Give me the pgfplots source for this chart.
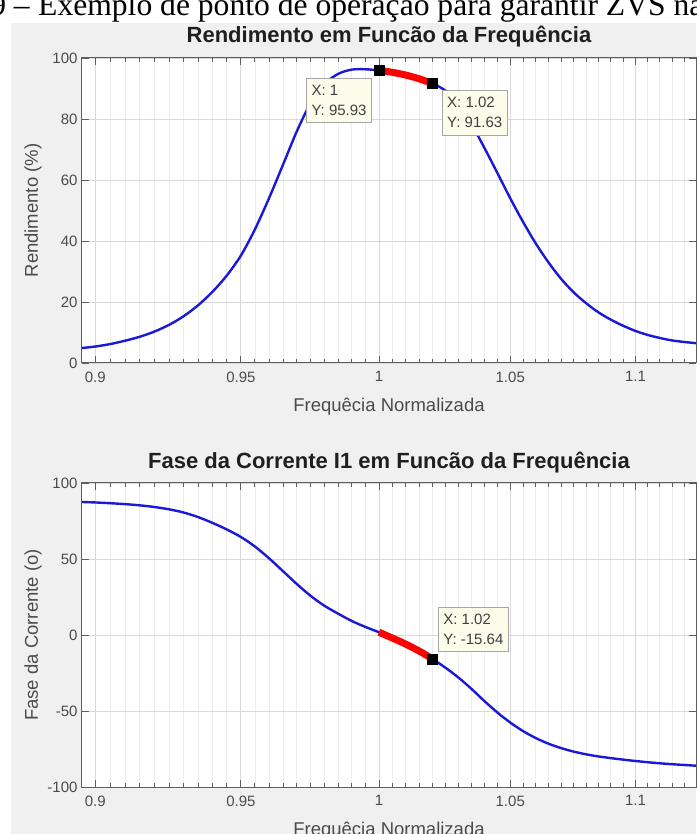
\documentclass[border=0pt]{standalone}
\usepackage{pgfplots}
\usepackage{pgfplotstable}
\pgfplotsset{compat=1.18}
\usepackage{fontspec}
\setmainfont{Liberation Sans}
\newfontfamily\seriffont{Liberation Serif}
\definecolor{figbg}{RGB}{240,240,240}
\definecolor{tipbg}{RGB}{252,252,234}
\definecolor{curveblue}{RGB}{25,25,215}
\definecolor{axgray}{RGB}{95,95,95}
\definecolor{lblgray}{RGB}{75,75,75}

\pgfplotstableread{
x y
0.8956 4.9
0.900 5.4
0.905 6.2
0.910 7.3
0.915 8.6
0.920 10.3
0.925 12.5
0.930 15.3
0.935 18.9
0.940 23.3
0.945 28.6
0.950 35.2
0.955 43.8
0.960 54
0.965 65
0.970 76
0.975 85.3
0.980 91.5
0.985 94.8
0.990 96.2
0.995 96.3
1.000 95.93
1.005 95.3
1.010 94.4
1.015 93.2
1.020 91.63
1.025 89.3
1.030 84.8
1.035 78.3
1.040 70.5
1.045 62.3
1.050 54
1.055 46.3
1.060 39.2
1.065 33
1.070 27.6
1.075 23.2
1.080 19.6
1.085 16.6
1.090 14.2
1.095 12.2
1.100 10.5
1.105 9.2
1.110 8.2
1.115 7.4
1.120 6.9
1.125 6.5
}\effdata

\pgfplotstableread{
x y
0.8956 87.5
0.900 87.2
0.905 86.7
0.910 86.1
0.915 85.3
0.920 84.2
0.925 82.7
0.930 80.6
0.935 77.6
0.940 73.8
0.945 69.5
0.950 64.5
0.955 58.2
0.960 50.5
0.965 42
0.970 33.5
0.975 25.7
0.980 19.2
0.985 14
0.990 9.2
0.995 5.3
1.000 1.8
1.005 -2
1.010 -6
1.015 -10.5
1.020 -15.64
1.025 -21.5
1.030 -28
1.035 -35.5
1.040 -43.5
1.045 -51
1.050 -57.6
1.055 -63.2
1.060 -67.8
1.065 -71.5
1.070 -74.4
1.075 -76.7
1.080 -78.5
1.085 -79.9
1.090 -81
1.095 -82
1.100 -82.9
1.105 -83.7
1.110 -84.4
1.115 -85
1.120 -85.5
1.125 -86
}\phasedata

\tikzset{
  tipbox/.style={draw=black!35, fill=tipbg, line width=0.6pt, inner xsep=5pt, inner ysep=7pt,
    text=black!75, font=\fontsize{15}{20}\selectfont, align=left},
}

\begin{document}
\begin{tikzpicture}
\useasboundingbox (0,0) rectangle (696pt,834pt);
\fill[figbg] (11pt,0pt) rectangle (696pt,811pt);
\node[anchor=base west, inner sep=0pt, font=\seriffont\fontsize{31.6}{32}\selectfont] at (38pt,818pt) {Exemplo de ponto de operação para garantir ZVS na};
\node[anchor=base east, inner sep=0pt, font=\seriffont\fontsize{31.6}{32}\selectfont] at (30pt,818pt) {9 –};

\begin{axis}[
    xmode=log, scale only axis, width=614pt, height=305pt,
    at={(82pt,471pt)}, anchor=south west,
    xmin=0.8956, xmax=1.125,
    xtick={0.9,0.95,1,1.05,1.1},
    xticklabels={0.9,0.95,1,1.05,1.1},
    minor xtick={0.905,0.91,0.915,0.92,0.925,0.93,0.935,0.94,0.945,0.955,0.96,0.965,0.97,0.975,0.98,0.985,0.99,0.995,1.005,1.01,1.015,1.02,1.025,1.03,1.035,1.04,1.045,1.055,1.06,1.065,1.07,1.075,1.08,1.085,1.09,1.095,1.105,1.11,1.115,1.12},
    xmajorgrids, xminorgrids, ymajorgrids,
    major grid style={draw=black!15, line width=0.8pt},
    minor grid style={draw=black!7, line width=0.8pt},
    axis line style={draw=axgray, line width=1pt},
    tick style={draw=axgray, line width=0.9pt},
    major tick length=7pt, minor tick length=4pt,
    tick align=inside,
    tick label style={font=\fontsize{15}{15}\selectfont, text=lblgray},
    xticklabel style={yshift=-5pt},
    yticklabel style={xshift=-1pt},
    xlabel style={at={(axis description cs:0.5,-0.1443)}, anchor=center, font=\fontsize{18.5}{18.5}\selectfont, text=lblgray},
    ylabel style={at={(axis description cs:-0.0798,0.5)}, anchor=center, font=\fontsize{18.5}{18.5}\selectfont, text=lblgray},
    title style={at={(axis description cs:0.5,1)}, anchor=center, yshift=15pt, font=\bfseries\fontsize{22}{22}\selectfont, text=black!88},
    axis background/.style={fill=white},
    xlabel={Frequêcia Normalizada},
    ymin=0, ymax=100, ytick={0,20,40,60,80,100},
    yticklabels={0,20,40,60,80,100},
    ylabel={Rendimento (\%)},
    title={Rendimento em Funcão da Frequência}]
\addplot[curveblue, line width=2.4pt, smooth] table[x=x,y=y] {\effdata};
\addplot[red, line width=7pt, smooth] coordinates {(1.000,95.93) (1.005,95.3) (1.010,94.4) (1.015,93.2) (1.020,91.63)};
\addplot[only marks, mark=square*, mark size=5pt, black] coordinates {(1,95.93) (1.02,91.63)};
\node[tipbox, anchor=north east] at (axis cs:0.9974,93.44) {X: 1\\Y: 95.93};
\node[tipbox, anchor=north west] at (axis cs:1.0237,89.5) {X: 1.02\\Y: 91.63};
\end{axis}

\begin{axis}[
    xmode=log, scale only axis, width=614pt, height=304pt,
    at={(82pt,47pt)}, anchor=south west,
    xmin=0.8956, xmax=1.125,
    xtick={0.9,0.95,1,1.05,1.1},
    xticklabels={0.9,0.95,1,1.05,1.1},
    minor xtick={0.905,0.91,0.915,0.92,0.925,0.93,0.935,0.94,0.945,0.955,0.96,0.965,0.97,0.975,0.98,0.985,0.99,0.995,1.005,1.01,1.015,1.02,1.025,1.03,1.035,1.04,1.045,1.055,1.06,1.065,1.07,1.075,1.08,1.085,1.09,1.095,1.105,1.11,1.115,1.12},
    xmajorgrids, xminorgrids, ymajorgrids,
    major grid style={draw=black!15, line width=0.8pt},
    minor grid style={draw=black!7, line width=0.8pt},
    axis line style={draw=axgray, line width=1pt},
    tick style={draw=axgray, line width=0.9pt},
    major tick length=7pt, minor tick length=4pt,
    tick align=inside,
    tick label style={font=\fontsize{15}{15}\selectfont, text=lblgray},
    xticklabel style={yshift=-5pt},
    yticklabel style={xshift=-1pt},
    xlabel style={at={(axis description cs:0.5,-0.1447)}, anchor=center, font=\fontsize{18.5}{18.5}\selectfont, text=lblgray},
    ylabel style={at={(axis description cs:-0.0798,0.5)}, anchor=center, font=\fontsize{18.5}{18.5}\selectfont, text=lblgray},
    title style={at={(axis description cs:0.5,1)}, anchor=center, yshift=14pt, font=\bfseries\fontsize{22}{22}\selectfont, text=black!88},
    axis background/.style={fill=white},
    xlabel={Frequêcia Normalizada},
    ymin=-100, ymax=100, ytick={-100,-50,0,50,100},
    yticklabels={-100,-50,0,50,100},
    ylabel={Fase da Corrente (o)},
    title={Fase da Corrente I1 em Funcão da Frequência}]
\addplot[curveblue, line width=2.4pt, smooth] table[x=x,y=y] {\phasedata};
\addplot[red, line width=7pt, smooth] coordinates {(1.000,1.8) (1.005,-2) (1.010,-6) (1.015,-10.5) (1.020,-15.64)};
\addplot[only marks, mark=square*, mark size=5pt, black] coordinates {(1.02,-15.64)};
\node[tipbox, anchor=south west] at (axis cs:1.0222,-11.2) {X: 1.02\\Y: -15.64};
\end{axis}
\end{tikzpicture}
\end{document}
